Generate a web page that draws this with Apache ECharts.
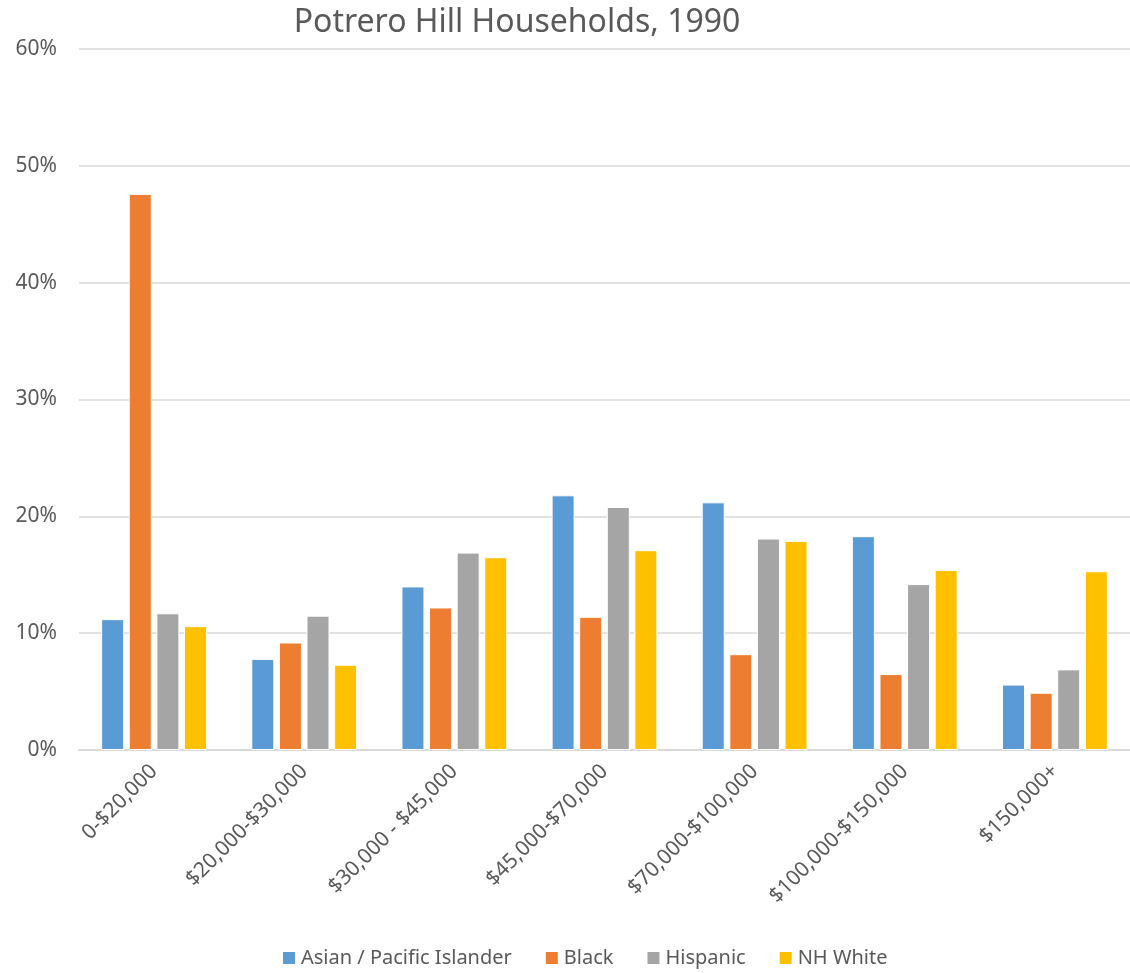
<!DOCTYPE html>
<html>
<head>
<meta charset="utf-8">
<script src="https://cdn.jsdelivr.net/npm/echarts@6/dist/echarts.min.js"></script>
<style>
  html, body { margin: 0; padding: 0; background: #fff; }
  #main { width: 1130px; height: 973px; }
</style>
</head>
<body>
<div id="main"></div>
<script>
// income brackets
const categories = ['0-$20,000', '$20,000-$30,000', '$30,000 - $45,000', '$45,000-$70,000',
  '$70,000-$100,000', '$100,000-$150,000', '$150,000+'];
// share of households, percent
const asianPI = [11.2, 7.8, 14.0, 21.8, 21.2, 18.3, 5.6];
const black = [47.6, 9.2, 12.2, 11.4, 8.2, 6.5, 4.9];
const hispanic = [11.7, 11.5, 16.9, 20.8, 18.1, 14.2, 6.9];
const nhWhite = [10.6, 7.3, 16.5, 17.1, 17.9, 15.4, 15.3];
const seriesNames = ['Asian / Pacific Islander', 'Black', 'Hispanic', 'NH White'];
const colors = ['#5B9BD5', '#ED7D31', '#A5A5A5', '#FFC000'];

const chart = echarts.init(document.getElementById('main'));
const font = 'Noto Sans';

const mk = (name, data, i) => ({
  name: name,
  type: 'bar',
  data: data,
  barWidth: 23,
  barGap: '20%',
  itemStyle: {
    color: colors[i],
    borderColor: '#fff',
    borderWidth: 1
  }
});

chart.setOption({
  animation: false,
  color: colors,
  textStyle: { fontFamily: font, color: '#595959' },
  title: {
    text: 'Potrero Hill Households, 1990',
    left: 512,
    top: 2,
    textAlign: 'center',
    textStyle: { fontFamily: font, fontSize: 32, fontWeight: 'normal', color: '#595959' }
  },
  legend: {
    bottom: 0,
    left: 276,
    itemWidth: 14,
    itemHeight: 14,
    itemGap: 32,
    icon: 'rect',
    textStyle: { fontFamily: font, fontSize: 20, color: '#595959' },
    data: seriesNames
  },
  grid: { left: 79, top: 49, width: 1058, height: 701 },
  xAxis: {
    type: 'category',
    data: categories,
    axisLine: { lineStyle: { color: '#D9D9D9', width: 2 } },
    axisTick: { show: false },
    axisLabel: { rotate: 45, fontSize: 21, color: '#595959', margin: 18 }
  },
  yAxis: {
    type: 'value',
    min: 0,
    max: 60,
    interval: 10,
    axisLine: { show: false },
    axisTick: { show: false },
    splitLine: { lineStyle: { color: '#D9D9D9', width: 1.5 } },
    axisLabel: { formatter: '{value}%', fontSize: 21, color: '#595959', margin: 22 }
  },
  series: [
    mk(seriesNames[0], asianPI, 0),
    mk(seriesNames[1], black, 1),
    mk(seriesNames[2], hispanic, 2),
    mk(seriesNames[3], nhWhite, 3)
  ]
});
</script>
</body>
</html>
